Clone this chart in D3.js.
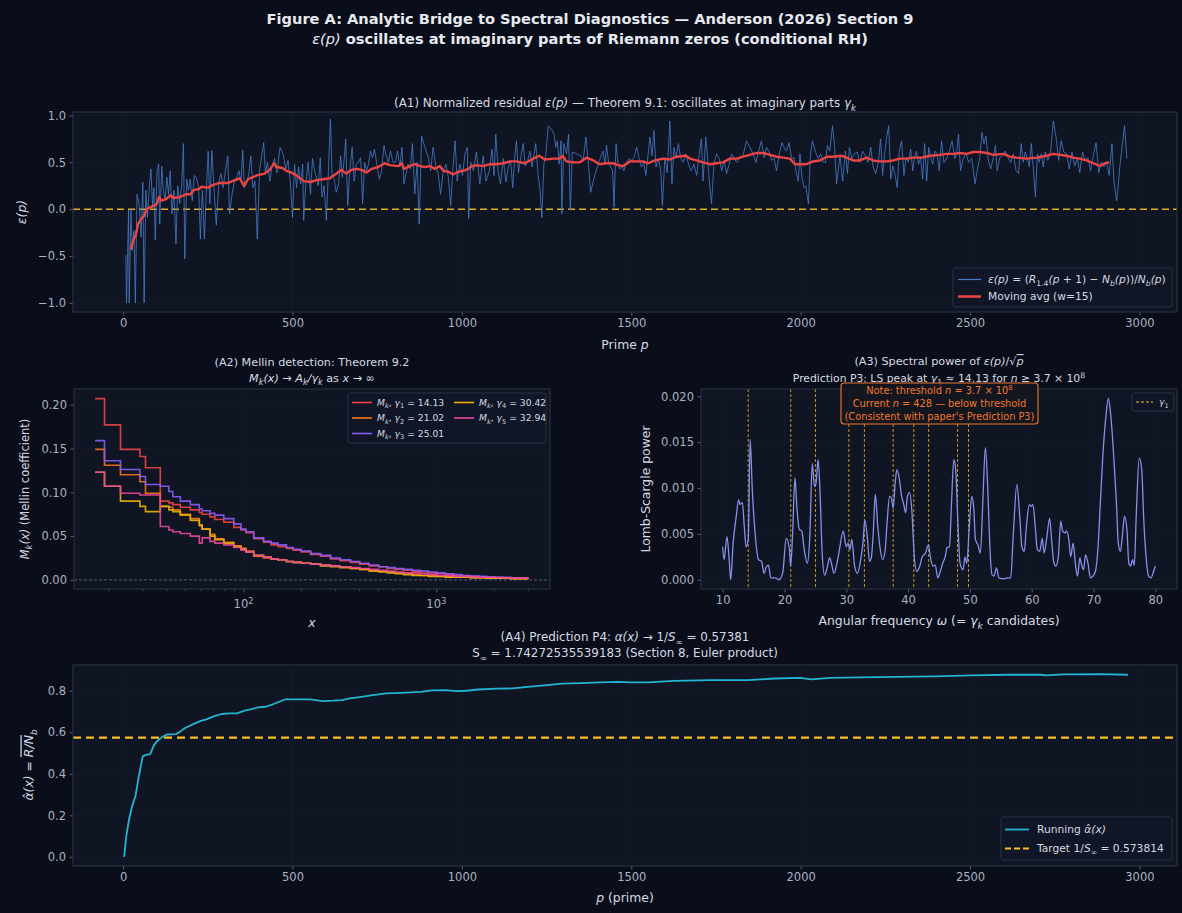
<!DOCTYPE html>
<html><head><meta charset="utf-8">
<script src="https://cdn.jsdelivr.net/npm/d3@7"></script>
<style>
html,body{margin:0;padding:0;background:#0a0e1a;}
svg{display:block;font-family:"DejaVu Sans",sans-serif;}
</style></head><body>
<svg id="c" width="1182" height="913"></svg>
<script>
// ---------------- DATA ----------------
// A1: normalized residual eps(p) at primes p  [p, eps]
const a1Eps = [[8,-0.49],[10,-1.0],[16,-0.01],[18,-1.0],[23,0.0],[27,-0.44],[32,-0.23],[36,-1.0],[41,0.16],[47,0.06],[53,-0.30],[58,0.29],[62,-1.0],[67,0.2],[72,-0.09],[77,0.22],[82,0.43],[87,0.02],[91,0.23],[95,-0.33],[100,0.41],[105,0.48],[108,-0.16],[114,0.46],[119,0.2],[124,0.09],[129,0.34],[134,0.16],[139,0.41],[144,-0.05],[150,0.2],[156,-0.37],[161,0.25],[167,0.06],[173,0.27],[178,0.70],[182,-0.53],[188,0.32],[193,0.2],[198,0.32],[204,0.09],[210,0.36],[216,0.34],[223,0.23],[228,-0.32],[234,0.2],[240,-0.32],[246,0.23],[251,0.62],[256,0.06],[262,0.63],[268,0.23],[275,-0.17],[283,0.3],[289,0.38],[295,0.23],[302,0.41],[309,0.57],[314,-0.05],[321,0.15],[327,0.27],[335,0.34],[342,0.41],[348,0.29],[353,0.63],[358,0.23],[364,0.27],[371,0.38],[377,0.57],[383,0.23],[389,0.3],[396,-0.32],[403,0.43],[410,0.59],[415,0.71],[420,0.38],[426,0.5],[433,0.3],[439,0.45],[447,0.54],[454,0.39],[463,0.66],[472,0.59],[480,0.43],[487,0.52],[494,0.27],[500,-0.09],[506,0.48],[512,0.23],[518,0.45],[524,0.27],[530,0.48],[533,-0.12],[539,0.27],[546,0.5],[553,0.16],[559,0.54],[564,0.43],[569,0.36],[576,0.25],[582,0.55],[587,0.13],[593,0.25],[600,-0.12],[606,0.41],[612,0.96],[617,0.34],[623,0.32],[629,0.18],[636,0.27],[642,0.57],[647,0.34],[653,0.55],[657,0.75],[663,0.04],[669,0.41],[676,0.66],[682,0.3],[688,0.48],[695,0.5],[701,0.55],[707,0.06],[713,0.5],[719,0.41],[724,0.48],[730,0.62],[736,0.55],[742,0.64],[748,0.5],[756,0.32],[763,0.41],[770,0.68],[775,0.59],[783,0.5],[789,0.62],[797,0.5],[804,0.5],[810,0.62],[817,0.45],[823,0.66],[829,0.27],[835,0.38],[841,0.48],[848,0.43],[854,0.7],[861,0.16],[868,0.5],[874,-0.16],[881,0.78],[891,0.66],[901,0.55],[908,0.41],[915,0.66],[923,0.46],[930,0.38],[937,0.16],[945,0.41],[953,0.48],[960,0.34],[967,0.04],[973,0.41],[980,0.73],[986,0.3],[994,0.48],[1002,0.36],[1009,0.59],[1016,0.66],[1020,-0.1],
[1026,0.5],[1034,0.41],[1043,0.61],[1053,0.27],[1063,0.57],[1071,0.3],[1081,0.41],[1089,0.64],[1095,0.36],[1100,0.8],[1107,0.41],[1114,0.27],[1122,0.54],[1130,0.29],[1137,0.45],[1144,0.52],[1150,0.23],[1156,0.55],[1161,0.73],[1167,0.39],[1174,0.55],[1181,0.7],[1187,0.46],[1193,0.5],[1201,0.62],[1207,0.45],[1213,0.59],[1218,0.7],[1225,0.36],[1230,0.23],[1236,-0.09],[1242,0.48],[1248,0.59],[1255,0.89],[1265,0.85],[1272,0.8],[1277,0.66],[1282,0.73],[1287,0.48],[1293,0.73],[1295,-0.05],[1301,0.7],[1309,0.59],[1315,0.8],[1320,-0.01],[1326,0.61],[1338,0.59],[1351,0.57],[1358,0.52],[1366,0.77],[1373,0.5],[1380,0.18],[1388,0.3],[1396,0.41],[1402,0.48],[1409,0.55],[1417,0.62],[1422,0.48],[1427,0.68],[1433,0.5],[1439,0.45],[1445,0.41],[1449,0.02],[1455,0.7],[1461,0.48],[1466,0.43],[1472,0.45],[1478,0.41],[1486,0.5],[1494,0.54],[1501,0.52],[1508,0.55],[1516,0.66],[1523,0.54],[1530,0.45],[1537,0.5],[1543,0.36],[1550,0.59],[1555,0.77],[1561,0.57],[1567,0.84],[1573,0.45],[1580,0.54],[1587,0.41],[1592,0.04],[1599,0.55],[1606,0.39],[1614,0.94],[1620,0.27],[1626,0.66],[1632,0.55],[1639,0.7],[1646,0.54],[1653,0.5],[1661,0.59],[1669,0.48],[1677,0.41],[1685,0.48],[1693,0.36],[1701,0.59],[1707,0.75],[1712,0.3],[1720,0.77],[1726,0.5],[1732,0.23],[1737,0.06],[1744,0.48],[1752,0.59],[1760,0.54],[1767,0.41],[1774,0.52],[1781,0.38],[1789,0.48],[1796,0.59],[1803,0.55],[1811,0.5],[1821,0.55],[1830,0.57],[1840,0.73],[1850,0.66],[1860,0.59],[1868,0.5],[1876,0.62],[1884,0.73],[1892,0.55],[1899,0.66],[1907,0.61],[1914,0.52],[1921,0.55],[1929,0.41],[1937,0.59],[1945,0.71],[1951,0.66],[1958,0.62],[1966,0.71],[1973,0.54],[1980,0.55],[1986,0.41],[1993,0.3],[1998,0.59],[2004,0.34],[2010,0.23],[2015,0.25],[2023,0.06],[2029,0.59],[2035,0.73],[2043,0.62],[2052,0.54],[2059,0.59],[2067,0.5],[2073,0.5],[2079,0.68],[2086,0.62],[2094,0.89],[2100,0.68],[2106,0.27],
[2116,0.57],[2124,0.3],[2132,0.62],[2138,0.38],[2144,0.66],[2151,0.54],[2159,0.59],[2167,0.61],[2175,0.5],[2183,0.62],[2191,0.57],[2199,0.5],[2207,0.66],[2214,0.45],[2222,0.38],[2230,0.52],[2236,0.75],[2242,0.36],[2248,0.59],[2254,0.77],[2260,0.89],[2266,0.32],[2272,0.46],[2278,0.38],[2285,0.23],[2291,0.62],[2298,0.73],[2305,0.36],[2311,0.55],[2318,0.5],[2325,0.64],[2331,0.41],[2336,0.55],[2342,0.62],[2348,0.48],[2354,0.55],[2360,0.32],[2366,0.7],[2372,0.3],[2378,0.66],[2384,0.55],[2390,0.48],[2396,0.62],[2403,0.59],[2409,0.41],[2416,0.73],[2423,0.5],[2431,0.54],[2439,0.62],[2447,0.73],[2455,0.54],[2460,0.59],[2466,0.8],[2472,0.41],[2480,0.54],[2488,0.59],[2496,0.5],[2505,0.54],[2515,0.27],[2521,0.41],[2529,0.55],[2535,0.82],[2541,0.7],[2547,0.78],[2554,0.52],[2561,0.43],[2569,0.55],[2575,0.68],[2580,0.41],[2588,0.55],[2596,0.57],[2604,0.62],[2612,0.55],[2620,0.5],[2628,0.59],[2636,0.41],[2643,0.38],[2651,0.7],[2657,0.5],[2663,0.61],[2669,0.55],[2675,0.45],[2681,0.7],[2687,0.43],[2693,0.13],[2699,0.59],[2704,0.5],[2710,0.59],[2716,0.45],[2722,0.61],[2730,0.52],[2738,0.61],[2746,0.94],[2754,0.77],[2762,0.52],[2769,0.73],[2777,0.61],[2785,0.59],[2793,0.43],[2801,0.61],[2809,0.46],[2817,0.54],[2824,0.39],[2832,0.61],[2840,0.52],[2848,0.55],[2856,0.41],[2864,0.57],[2872,0.71],[2880,0.39],[2887,0.5],[2895,0.45],[2903,0.5],[2911,0.36],[2919,0.7],[2925,0.29],[2933,0.09],[2943,0.48],[2950,0.7],[2956,0.89],[2963,0.54]];

// A1: moving average (w=15)  [p, value]
const a1MovAvg = [[22,-0.43],[30,-0.33],[37,-0.28],[44,-0.16],[54,-0.10],[62,-0.07],[69,0.0],[79,0.02],[94,0.04],[100,0.06],[106,0.13],[114,0.09],[128,0.11],[140,0.15],[148,0.12],[167,0.13],[187,0.16],[199,0.16],[207,0.2],[226,0.22],[231,0.24],[251,0.23],[266,0.26],[285,0.28],[310,0.28],[330,0.31],[344,0.33],[356,0.25],[369,0.32],[394,0.36],[418,0.38],[433,0.42],[445,0.49],[453,0.45],[470,0.44],[482,0.41],[497,0.39],[512,0.36],[533,0.3],[553,0.29],[571,0.31],[591,0.32],[610,0.33],[630,0.38],[645,0.42],[659,0.38],[674,0.42],[689,0.43],[704,0.42],[719,0.39],[733,0.43],[753,0.45],[772,0.49],[787,0.47],[812,0.46],[822,0.49],[829,0.43],[846,0.46],[861,0.48],[876,0.46],[891,0.45],[906,0.46],[920,0.43],[935,0.46],[945,0.41],[960,0.40],[974,0.37],[989,0.40],[1004,0.41],[1019,0.43],[1029,0.46],[1043,0.47],[1063,0.46],[1083,0.48],[1102,0.48],[1122,0.49],[1142,0.51],[1161,0.51],[1186,0.49],[1211,0.54],[1228,0.57],[1245,0.53],[1270,0.54],[1289,0.54],[1297,0.57],[1309,0.51],[1329,0.5],[1348,0.5],[1368,0.55],[1388,0.52],[1407,0.48],[1427,0.49],[1447,0.49],[1461,0.47],[1476,0.46],[1496,0.51],[1516,0.51],[1535,0.51],[1550,0.49],[1570,0.52],[1594,0.54],[1614,0.53],[1634,0.56],[1661,0.57],[1673,0.54],[1693,0.52],[1712,0.5],[1732,0.48],[1752,0.49],[1771,0.5],[1791,0.54],[1811,0.54],[1830,0.56],[1850,0.58],[1870,0.6],[1890,0.6],[1909,0.58],[1929,0.56],[1949,0.55],[1968,0.54],[1983,0.48],[1998,0.48],[2017,0.48],[2037,0.51],[2057,0.52],[2077,0.56],[2096,0.56],[2121,0.57],[2136,0.55],[2155,0.52],[2175,0.52],[2195,0.55],[2214,0.52],[2234,0.51],[2254,0.51],[2273,0.52],[2293,0.54],[2313,0.54],[2332,0.55],[2357,0.55],[2382,0.57],[2411,0.58],[2431,0.59],[2451,0.59],[2470,0.6],[2490,0.59],[2510,0.61],[2529,0.61],[2549,0.6],[2569,0.58],[2598,0.59],[2618,0.56],[2638,0.55],[2667,0.54],[2697,0.55],[2726,0.57],[2746,0.59],[2765,0.58],[2785,0.57],[2805,0.55],[2824,0.54],[2844,0.52],[2864,0.49],[2884,0.46],[2898,0.49],[2911,0.5]];

// A2: Mellin coefficients at primes x
const a2X = [17,19,23,29,31,37,41,43,47,53,59,61,67,71,79,89,97,103,113,127,139,151,167,181,199,223,251,283,317,359,401,449,503,557,613,677,751,829,911,1009,1117,1231,1361,1499,1657,1823,2011,2213,2441,2689,2999];
const a2G1 = [.207,.177,.149,.141,.128,.090,.088,.086,.083,.080,.077,.075,.072,.069,.066,.060,.057,.054,.047,.043,.040,.038,.036,.034,.032,.029,.027,.024,.022,.020,.018,.016,.015,.013,.012,.011,.010,.009,.008,.007,.006,.005,.0045,.004,.0035,.003,.003,.0025,.002,.002,.0015];
const a2G2 = [.149,.131,.120,.112,.099,.084,.083,.080,.075,.070,.063,.058,.052,.047,.043,.039,.036,.033,.027,.025,.024,.023,.021,.020,.019,.018,.017,.016,.015,.013,.012,.011,.010,.009,.008,.007,.006,.005,.005,.004,.0035,.003,.003,.0025,.0025,.002,.002,.002,.0015,.0015,.0015];
const a2G3 = [.159,.136,.126,.118,.109,.107,.101,.095,.090,.086,.081,.079,.076,.074,.070,.064,.058,.055,.048,.044,.042,.040,.037,.035,.033,.030,.028,.025,.023,.021,.019,.017,.015,.014,.013,.012,.011,.010,.009,.008,.007,.006,.005,.0045,.004,.0035,.003,.003,.0025,.002,.002];
const a2G4 = [.123,.107,.090,.084,.078,.084,.080,.078,.074,.068,.062,.058,.050,.046,.042,.038,.035,.032,.028,.026,.024,.023,.021,.020,.019,.018,.016,.015,.014,.013,.012,.010,.009,.008,.007,.006,.005,.005,.004,.004,.003,.003,.003,.0025,.0025,.002,.002,.002,.0015,.0015,.0015];
const a2G5 = [.123,.107,.099,.097,.097,.061,.057,.055,.053,.050,.042,.048,.044,.042,.040,.037,.034,.032,.028,.026,.024,.023,.021,.020,.019,.018,.017,.016,.015,.014,.013,.012,.011,.010,.009,.008,.008,.007,.006,.005,.005,.004,.004,.0035,.003,.003,.0025,.0025,.002,.002,.0015];
const a2Labels = ["14.13","21.02","25.01","30.42","32.94"];

// A3: Lomb-Scargle power [omega, power]
const a3Power = [[10.0,.0036],[10.24,.0022],[10.7,.0047],[11.1,.0018],[11.3,.0],[11.7,.004],[12.2,.0069],[12.6,.0087],[12.8,.0082],[13.2,.0084],[13.5,.0058],[13.8,.0036],[14.15,.0044],[14.45,.0153],[14.8,.0098],[15.2,.0055],[15.8,.0022],[16.3,.002],[16.7,.0007],[17.0,.0013],[17.4,.0016],[17.8,.0002],[18.5,.0002],[19.1,.0],[19.7,.0007],[20.3,.0045],[20.8,.0033],[21.0,.0015],[21.3,.0047],[21.7,.0111],[22.0,.008],[22.4,.0055],[22.8,.0053],[23.2,.0033],[23.7,.0018],[24.1,.0047],[24.5,.0127],[24.85,.0102],[25.1,.0105],[25.45,.0131],[25.8,.0087],[26.1,.0029],[26.5,.0005],[26.9,.0013],[27.3,.0024],[27.6,.0018],[28.0,.0007],[28.5,.0018],[28.9,.0033],[29.5,.0053],[30.0,.0036],[30.3,.004],[30.6,.0033],[30.9,.0044],[31.35,.0015],[31.8,.0007],[32.4,.0025],[32.7,.004],[33.0,.0065],[33.4,.0047],[33.75,.002],[34.05,.0024],[34.35,.0049],[34.7,.0093],[35.1,.0058],[35.5,.0033],[35.9,.0022],[36.3,.0033],[36.6,.0062],[37.0,.0091],[37.3,.0089],[37.6,.0078],[37.9,.0105],[38.2,.012],[38.6,.0109],[38.9,.0093],[39.3,.0082],[39.6,.0073],[39.9,.0091],[40.25,.0095],[40.6,.0076],[41.0,.0025],[41.4,.0009],[41.8,.0013],[42.3,.0025],[42.8,.0029],[43.3,.0038],[43.6,.0025],[44.0,.0015],[44.4,.0016],[44.8,.0002],[45.2,.0009],[45.6,.0018],[46.0,.0025],[46.3,.0035],[46.7,.0036],[47.0,.008],[47.4,.0131],[47.7,.012],[48.1,.0055],[48.4,.0018],[48.9,.0011],[49.2,.0025],[49.5,.0018],[49.9,.0058],[50.3,.0091],[50.6,.008],[50.9,.0044],[51.3,.0038],[51.7,.0029],[52.1,.0087],[52.5,.0144],[52.9,.0098],[53.2,.004],[53.6,.0005],[53.9,.0004],[54.3,.0013],[54.7,.0002],[55.5,.0001],[56.1,.0002],[56.6,.0002],[57.0,.0047],[57.6,.0104],[58.1,.0065],[58.4,.0036],[58.8,.0031],[59.1,.0055],[59.6,.0082],[59.9,.008],[60.2,.0082],[60.6,.0055],[60.9,.0033],[61.3,.0031],[61.7,.0045],[62.0,.0029],[62.4,.0044],[62.9,.0067],[63.2,.0045],[63.6,.0018],[63.9,.0015],[64.3,.0025],[64.7,.0064],[65.0,.0053],[65.4,.0051],[65.6,.0053],[66.0,.0044],[66.3,.0025],[66.7,.004],[67.1,.0015],[67.4,.0004],[67.8,.0024],[68.0,.0018],[68.4,.0011],[68.7,.0027],[69.1,.0018],[69.5,.0002],[69.9,.0004],[70.3,.0009],[70.7,.0033],[71.1,.0084],[71.5,.0135],[72.0,.0178],[72.4,.0198],[72.8,.0178],[73.3,.0131],[73.7,.0084],[74.0,.004],[74.35,.0031],[74.65,.0047],[75.0,.0069],[75.4,.0055],[75.7,.0018],[76.0,.0015],[76.3,.0022],[76.6,.0016],[76.9,.0069],[77.4,.0133],[77.8,.012],[78.1,.0069],[78.5,.0025],[78.9,.0004],[79.3,.0002],[79.7,.0009],[80.0,.0015]];
// imaginary parts of first Riemann zeros
const a3Gammas = [14.134725,21.022040,25.010858,30.424876,32.935062,37.586178,40.918719,43.327073,48.005151,49.773832];

// A4: running alpha-hat [p, value]
const a4Alpha = [[3,0.0],[9,0.096],[18,0.185],[26,0.24],[37,0.297],[46,0.386],[58,0.485],[71,0.492],[80,0.495],[91,0.538],[103,0.562],[116,0.578],[130,0.59],[156,0.591],[167,0.602],[184,0.622],[207,0.639],[229,0.655],[246,0.662],[269,0.678],[291,0.688],[314,0.691],[336,0.691],[359,0.704],[382,0.713],[398,0.72],[421,0.723],[444,0.736],[461,0.747],[477,0.758],[494,0.758],[528,0.758],[551,0.758],[568,0.755],[590,0.75],[619,0.752],[647,0.755],[669,0.763],[703,0.771],[737,0.779],[777,0.787],[822,0.79],[878,0.795],[912,0.802],[951,0.803],[985,0.798],[1014,0.8],[1047,0.806],[1104,0.81],[1149,0.811],[1194,0.819],[1251,0.827],[1296,0.834],[1352,0.837],[1407,0.84],[1462,0.843],[1501,0.840],[1550,0.840],[1626,0.848],[1736,0.851],[1846,0.851],[1923,0.859],[1999,0.862],[2032,0.855],[2087,0.862],[2174,0.864],[2284,0.867],[2394,0.869],[2503,0.874],[2613,0.877],[2711,0.877],[2722,0.874],[2777,0.879],[2887,0.88],[2966,0.877]];
const a4Target = 0.573814;

const primeTicks = [0,500,1000,1500,2000,2500,3000];
const a1YTicks = [-1.0,-0.5,0.0,0.5,1.0];
const a2YTicks = [0,0.05,0.10,0.15,0.20];
const a3XTicks = [10,20,30,40,50,60,70,80];
const a3YTicks = [0,0.005,0.010,0.015,0.020];
const a4YTicks = [0,0.2,0.4,0.6,0.8];

// ---------------- STYLE / HELPERS ----------------
const C = {bg:'#0a0e1a', face:'#0f1522', spine:'#2c3649', tickc:'#687286', ticklab:'#aab2c0', text:'#d5dae3',
  grid:'rgba(255,255,255,0.025)', gold:'#fbbf24', blue:'#4a7fd0', red:'#ef4444', cyan:'#22b5d3', indigo:'#8790ea', orange:'#f0782c'};
const TICKFS = 11.5, LABFS = 12.4;
const svg = d3.select('#c');
svg.append('rect').attr('width',1182).attr('height',913).attr('fill',C.bg);
const defs = svg.append('defs');
let clipN = 0;

function rich(sel, parts, fs){
  let shift = 0;
  for (const p of parts){
    const s = Array.isArray(p) ? p[0] : p;
    const f = Array.isArray(p) ? (p[1]||'') : '';
    const target = f.includes('_') ? 0.28*fs : (f.includes('^') ? -0.4*fs : 0);
    const ts = sel.append('tspan').text(s);
    if (f.includes('i')) ts.attr('font-style','italic');
    if (f.includes('o')) ts.attr('text-decoration','overline');
    if (f.includes('n')) ts.attr('font-weight','normal');
    if (target !== 0) ts.attr('font-size',(fs*0.72)+'px');
    if (target !== shift) ts.attr('dy',(target-shift)+'px');
    shift = target;
  }
  return sel;
}
function txt(x, y, parts, o={}){
  const fs = o.fs || 11;
  const t = svg.append('text').attr('x',x).attr('y',y + 0.36*fs)
    .attr('font-size',fs+'px').attr('fill',o.fill||C.text)
    .attr('text-anchor',o.anchor||'middle');
  if (o.bold) t.attr('font-weight','bold');
  if (o.rot) t.attr('transform',`rotate(-90,${x},${y})`).attr('y',y+0.36*fs);
  rich(t, typeof parts==='string' ? [parts] : parts, fs);
  return t;
}
function panel(L,T,R,B){
  const g = svg.append('g');
  g.append('rect').attr('x',L).attr('y',T).attr('width',R-L).attr('height',B-T).attr('fill',C.face);
  const id = 'clip'+(clipN++);
  defs.append('clipPath').attr('id',id).append('rect').attr('x',L).attr('y',T).attr('width',R-L).attr('height',B-T);
  const plot = svg.append('g').attr('clip-path',`url(#${id})`);
  return {g, plot, L,T,R,B};
}
function frame(P){
  svg.append('rect').attr('x',P.L).attr('y',P.T).attr('width',P.R-P.L).attr('height',P.B-P.T)
    .attr('fill','none').attr('stroke',C.spine).attr('stroke-width',1);
}
function styleAxis(g, fs){
  g.select('.domain').remove();
  g.selectAll('.tick line').attr('stroke',C.tickc).attr('stroke-width',0.8);
  g.selectAll('.tick text').attr('fill',C.ticklab).attr('font-size',fs+'px').attr('font-family','DejaVu Sans, sans-serif');
}
const minusFmt = f => v => d3.format(f)(v).replace('-','\u2212');
function xAxis(P, sc, ticks, fmt, fs=TICKFS){
  const g = svg.append('g').attr('transform',`translate(0,${P.B})`)
    .call(d3.axisBottom(sc).tickValues(ticks).tickFormat(fmt).tickSize(3.5).tickPadding(3.5));
  styleAxis(g, fs);
  P.g.selectAll(null).data(ticks).enter().append('line')
    .attr('x1',d=>sc(d)).attr('x2',d=>sc(d)).attr('y1',P.T).attr('y2',P.B).attr('stroke',C.grid);
  return g;
}
function yAxis(P, sc, ticks, fmt, fs=TICKFS){
  const g = svg.append('g').attr('transform',`translate(${P.L},0)`)
    .call(d3.axisLeft(sc).tickValues(ticks).tickFormat(fmt).tickSize(3.5).tickPadding(3.5));
  styleAxis(g, fs);
  P.g.selectAll(null).data(ticks).enter().append('line')
    .attr('y1',d=>sc(d)).attr('y2',d=>sc(d)).attr('x1',P.L).attr('x2',P.R).attr('stroke',C.grid);
  return g;
}
function legendBox(x,y,w,h){
  svg.append('rect').attr('x',x).attr('y',y).attr('width',w).attr('height',h).attr('rx',2.5)
    .attr('fill','#101726').attr('fill-opacity',0.92).attr('stroke','#2e384b').attr('stroke-width',0.9);
}
function legendLine(x1,x2,y,color,w,dash){
  const l = svg.append('line').attr('x1',x1).attr('x2',x2).attr('y1',y).attr('y2',y).attr('stroke',color).attr('stroke-width',w);
  if (dash) l.attr('stroke-dasharray',dash);
}

// ---------------- SUPTITLE ----------------
txt(590, 19, ['Figure A: Analytic Bridge to Spectral Diagnostics \u2014 Anderson (2026) Section 9'], {fs:14.6, bold:true, fill:'#e6e9ef'});
txt(590, 39, [['\u03b5(','in'],['p','in'],[')','in'],' oscillates at imaginary parts of Riemann zeros (conditional RH)'], {fs:14.6, bold:true, fill:'#e6e9ef'});

// ---------------- A1 ----------------
{
  const P = panel(73,112,1177,312);
  const x = d3.scaleLinear().domain([-148,3111]).range([P.L,P.R]);
  const y = d3.scaleLinear().domain([-1.097,1.037]).range([P.B,P.T]);
  xAxis(P, x, primeTicks, d3.format('d'));
  yAxis(P, y, a1YTicks, minusFmt('.1f'));
  P.plot.append('line').attr('x1',P.L).attr('x2',P.R).attr('y1',y(0)).attr('y2',y(0))
    .attr('stroke',C.gold).attr('stroke-width',1.6).attr('stroke-dasharray','7,4').attr('opacity',0.9);
  P.plot.append('path').datum(a1Eps).attr('fill','none').attr('stroke',C.blue).attr('stroke-width',0.9).attr('opacity',0.85)
    .attr('d', d3.line().x(d=>x(d[0])).y(d=>y(d[1])));
  P.plot.append('path').datum(a1MovAvg).attr('fill','none').attr('stroke',C.red).attr('stroke-width',2.4)
    .attr('stroke-linejoin','round').attr('d', d3.line().x(d=>x(d[0])).y(d=>y(d[1])));
  frame(P);
  txt(625, 103, ['(A1) Normalized residual ',['\u03b5(','i'],['p','i'],[')','i'],'  \u2014  Theorem 9.1: oscillates at imaginary parts ',['\u03b3','i'],['k','_i']], {fs:11.9});
  txt(625, 345, ['Prime ',['p','i']], {fs:LABFS});
  txt(22, 212, [['\u03b5(p)','i']], {fs:LABFS, rot:true});
  legendBox(953,268,219,39);
  legendLine(958,981,279.5,C.blue,1.2);
  txt(988,279.5,[['\u03b5(p)','i'],' = (',['R','i'],['1.4','_'],['(p','i'],' + 1) \u2212 ',['N','i'],['b','_i'],['(p','i'],'))/',['N','i'],['b','_i'],['(p','i'],')'],{fs:10.7, anchor:'start'});
  legendLine(958,981,296.5,C.red,2.5);
  txt(988,296.5,['Moving avg (w=15)'],{fs:10.7, anchor:'start'});
}

// ---------------- A2 ----------------
{
  const P = panel(74,389,550,589);
  const x = d3.scaleLog().domain([13.2,3890]).range([P.L,P.R]);
  const y = d3.scaleLinear().domain([-0.0104,0.218]).range([P.B,P.T]);
  xAxis(P, x, [100,1000], ()=>'', TICKFS);
  const minors = [20,30,40,50,60,70,80,90,200,300,400,500,600,700,800,900,2000,3000];
  svg.append('g').selectAll('line').data(minors).enter().append('line')
    .attr('x1',d=>x(d)).attr('x2',d=>x(d)).attr('y1',P.B).attr('y2',P.B+2).attr('stroke',C.tickc).attr('stroke-width',0.6);
  [[100,'2'],[1000,'3']].forEach(([v,e])=>{
    txt(x(v), P.B+15, ['10',[e,'^']], {fs:TICKFS, fill:C.ticklab});
  });
  yAxis(P, y, a2YTicks, d3.format('.2f'));
  P.plot.append('line').attr('x1',P.L).attr('x2',P.R).attr('y1',y(0)).attr('y2',y(0))
    .attr('stroke','#8a93a5').attr('stroke-width',0.8).attr('stroke-dasharray','3,2').attr('opacity',0.7);
  const series = [[a2G1,'#ef4444'],[a2G2,'#f97316'],[a2G3,'#8b5cf6'],[a2G4,'#eab308'],[a2G5,'#ec4899']];
  const line = d3.line().curve(d3.curveStepAfter).x(d=>x(d[0])).y(d=>y(d[1]));
  series.forEach(([vals,col])=>{
    P.plot.append('path').datum(a2X.map((v,i)=>[v,vals[i]])).attr('fill','none').attr('stroke',col)
      .attr('stroke-width',1.6).attr('opacity',0.9).attr('d',line);
  });
  frame(P);
  txt(312, 362, ['(A2) Mellin detection: Theorem 9.2'], {fs:11.2});
  txt(312, 378, [['M','i'],['k','_i'],['(x)','i'],' \u2192 ',['A','i'],['k','_i'],['/\u03b3','i'],['k','_i'],' as ',['x','i'],' \u2192 \u221e'], {fs:11.2});
  txt(312, 623, [['x','i']], {fs:LABFS});
  txt(25, 489, [['M','i'],['k','_i'],['(x)','i'],'  (Mellin coefficient)'], {fs:11.5, rot:true});
  legendBox(348,393,198,50);
  const rows = [[0,0],[0,1],[0,2],[1,0],[1,1]];
  rows.forEach(([c,r],i)=>{
    const lx = c===0 ? 352 : 454, ty = 402.5 + r*15.5;
    legendLine(lx, lx+20, ty, series[i][1], 1.6);
    txt(lx+25, ty, [['M','i'],['k','_i'],', ',['\u03b3','i'],[String(i+1),'_'],' = '+a2Labels[i]], {fs:9.2, anchor:'start'});
  });
}

// ---------------- A3 ----------------
{
  const P = panel(701,389,1177,589);
  const x = d3.scaleLinear().domain([6.5,83.5]).range([P.L,P.R]);
  const y = d3.scaleLinear().domain([-0.00101,0.0208]).range([P.B,P.T]);
  xAxis(P, x, a3XTicks, d3.format('d'));
  yAxis(P, y, a3YTicks, d3.format('.3f'));
  P.plot.selectAll(null).data(a3Gammas).enter().append('line')
    .attr('x1',d=>x(d)).attr('x2',d=>x(d)).attr('y1',P.T).attr('y2',P.B)
    .attr('stroke',C.gold).attr('stroke-width',1).attr('stroke-dasharray','3,2').attr('opacity',0.75);
  P.plot.append('path').datum(a3Power).attr('fill','none').attr('stroke',C.indigo).attr('stroke-width',1.3)
    .attr('d', d3.line().curve(d3.curveMonotoneX).x(d=>x(d[0])).y(d=>y(d[1])));
  frame(P);
  txt(939, 361, ['(A3) Spectral power of ',['\u03b5(p)','i'],'/\u221a',['p','io']], {fs:11.2});
  txt(939, 378, ['Prediction P3: LS peak at ',['\u03b3','i'],['1','_'],' \u2248 14.13 for ',['n','i'],' \u2265 3.7 \u00d7 10',['8','^']], {fs:10.8});
  txt(939, 621, ['Angular frequency ',['\u03c9','i'],' (= ',['\u03b3','i'],['k','_i'],' candidates)'], {fs:LABFS});
  txt(646, 489, ['Lomb-Scargle power'], {fs:LABFS, rot:true});
  svg.append('rect').attr('x',841).attr('y',383).attr('width',197).attr('height',41).attr('rx',3)
    .attr('fill','#141620').attr('fill-opacity',0.92).attr('stroke',C.orange).attr('stroke-width',1.1);
  txt(939.5, 390.5, ['Note: threshold ',['n','i'],' = 3.7 \u00d7 10',['8','^']], {fs:9.8, fill:C.orange});
  txt(939.5, 403.5, ['Current ',['n','i'],' = 428 \u2014 below threshold'], {fs:9.8, fill:C.orange});
  txt(939.5, 416, ["(Consistent with paper's Prediction P3)"], {fs:9.8, fill:C.orange});
  legendBox(1132,393,42,18);
  legendLine(1136,1153,402,C.gold,1,'3,2');
  txt(1159,402,[['\u03b3','i'],['1','_']],{fs:9.2, anchor:'start'});
}

// ---------------- A4 ----------------
{
  const P = panel(73,665,1177,866);
  const x = d3.scaleLinear().domain([-148,3111]).range([P.L,P.R]);
  const y = d3.scaleLinear().domain([-0.044,0.924]).range([P.B,P.T]);
  xAxis(P, x, primeTicks, d3.format('d'));
  yAxis(P, y, a4YTicks, d3.format('.1f'));
  P.plot.append('line').attr('x1',P.L).attr('x2',P.R).attr('y1',y(a4Target)).attr('y2',y(a4Target))
    .attr('stroke',C.gold).attr('stroke-width',2.2).attr('stroke-dasharray','8,5');
  P.plot.append('path').datum(a4Alpha).attr('fill','none').attr('stroke',C.cyan).attr('stroke-width',1.8)
    .attr('stroke-linejoin','round').attr('d', d3.line().x(d=>x(d[0])).y(d=>y(d[1])));
  frame(P);
  txt(625, 637, ['(A4) Prediction P4: ',['\u03b1(x)','i'],' \u2192 1/',['S','i'],['\u221e','_'],' = 0.57381'], {fs:11.9});
  txt(625, 653, ['S',['\u221e','_'],' = 1.74272535539183 (Section 8, Euler product)'], {fs:11.9});
  txt(625, 898, [['p','i'],' (prime)'], {fs:LABFS});
  txt(29, 765, [['\u03b1\u0302(x)','i'],' = ',['R/N','io'],['b','_i']], {fs:LABFS, rot:true});
  legendBox(1001,817,171,43);
  legendLine(1005,1029,829.5,C.cyan,1.8);
  txt(1037,829.5,['Running ',['\u03b1\u0302(x)','i']],{fs:10.7, anchor:'start'});
  legendLine(1005,1029,848.5,C.gold,2.2,'6,3');
  txt(1037,848.5,['Target 1/',['S','i'],['\u221e','_'],' = 0.573814'],{fs:10.7, anchor:'start'});
}
</script>
</body></html>
